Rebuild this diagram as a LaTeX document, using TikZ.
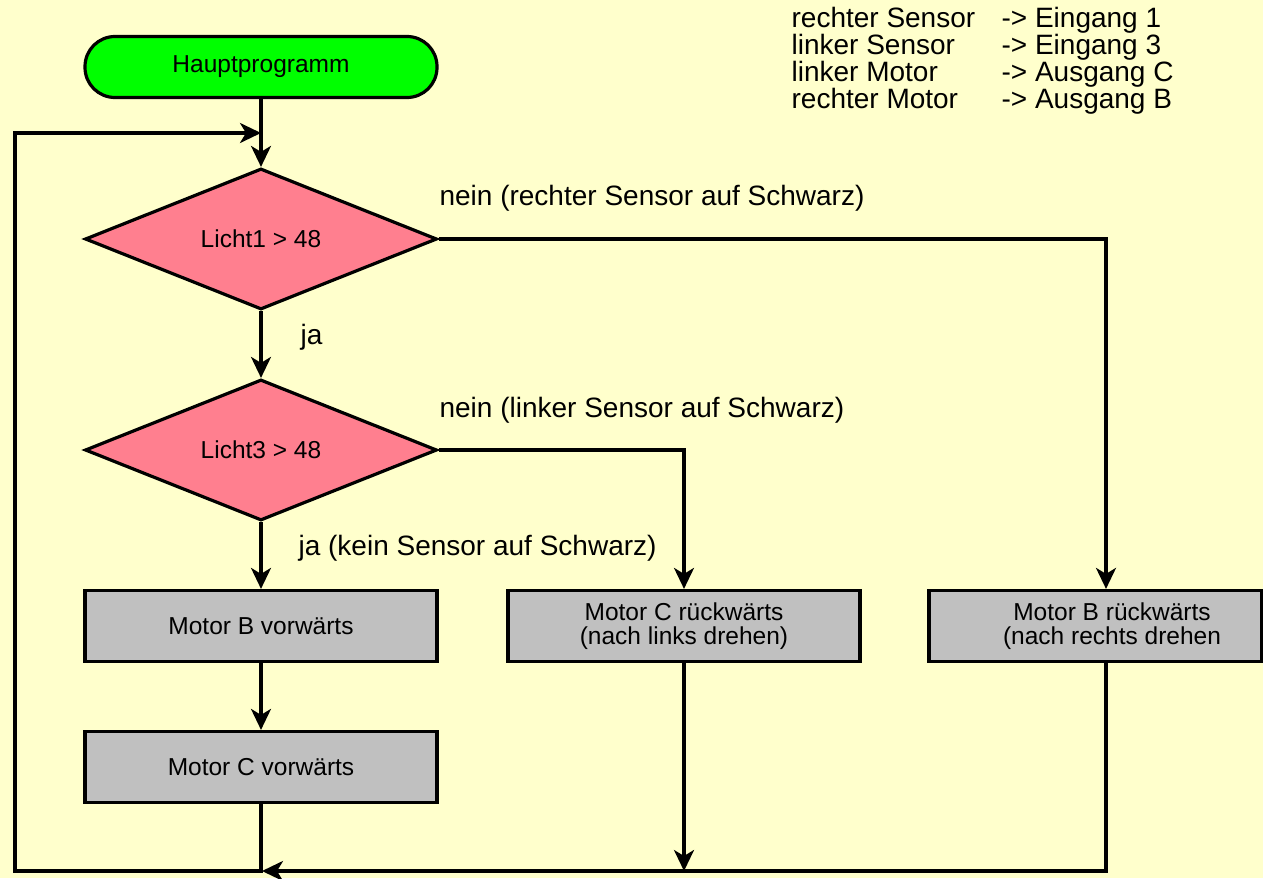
\documentclass[tikz,border=0pt]{standalone}
\usepackage{fontspec}
\setmainfont{Liberation Sans}
\usetikzlibrary{shapes.geometric,arrows.meta}
\definecolor{bgc}{HTML}{FFFFCC}
\definecolor{startc}{HTML}{00FF00}
\definecolor{decc}{HTML}{FF7F8F}
\definecolor{procc}{HTML}{C0C0C0}
\begin{document}
\begin{tikzpicture}[x=1pt,y=-1pt,line width=3.2pt,
  nodetext/.style={font=\fontsize{24.5}{24}\selectfont, align=center},
  startbox/.style={draw, fill=startc, rounded corners=30pt, minimum width=352pt, minimum height=61pt, inner sep=0pt, nodetext},
  decbox/.style={draw, fill=decc, diamond, minimum width=352pt, minimum height=141pt, inner sep=0pt, nodetext},
  procbox/.style={draw, fill=procc, minimum width=352pt, minimum height=71pt, inner sep=0pt, nodetext},
  lbl/.style={font=\fontsize{28}{28}\selectfont, anchor=base west, inner sep=0pt},
  flow/.style={-{Stealth[length=21pt,width=20pt,inset=6pt]}, line width=3.2pt}]
\fill[bgc] (0,0) rectangle (1263,878);
\useasboundingbox (0,0) rectangle (1263,878);

% legend
\node[lbl] (g1) at (790,27.5) {rechter Sensor};
\node[lbl] (g2) at (790,54.5) {linker Sensor};
\node[lbl] (g3) at (790,81.5) {linker Motor};
\node[lbl] (g4) at (790,108.5) {rechter Motor};
\node[lbl] (h1) at (1000,27.5) {-> Eingang 1};
\node[lbl] (h2) at (1000,54.5) {-> Eingang 3};
\node[lbl] (h3) at (1000,81.5) {-> Ausgang C};
\node[lbl] (h4) at (1000,108.5) {-> Ausgang B};

% nodes
\node[startbox] (hp) at (261,67) {Hauptprogramm};
\node[decbox] (d1) at (261,239) {Licht1 > 48};
\node[decbox] (d2) at (261,450) {Licht3 > 48};
\node[procbox] (mbv) at (261,626) {Motor B vorwärts};
\node[procbox] (mcv) at (261,767) {Motor C vorwärts};
\node[procbox] (mcr) at (684,626) {Motor C rückwärts\\(nach links drehen)};
\node[procbox, minimum width=333pt] (mbr) at (1095.5,626) {};
\node[nodetext] (mbrt) at (1112,626) {Motor B rückwärts\\(nach rechts drehen};

% labels
\node[lbl] (l1) at (438,205) {nein (rechter Sensor auf Schwarz)};
\node[lbl] (l2) at (299,344) {ja};
\node[lbl] (l3) at (438,417) {nein (linker Sensor auf Schwarz)};
\node[lbl] (l4) at (297,555) {ja (kein Sensor auf Schwarz)};

% coordinates
\coordinate (jt) at (261,133);
\coordinate (bl) at (15,871);
\coordinate (bj) at (262,871);
\coordinate (rx) at (1106,871);

% connectors
\draw[flow] (hp.south) -- (d1.north);
\draw[flow] (mcv.south) -- (mcv.south |- bl) -- (bl) -- (bl |- jt) -- (jt);
\draw[flow] (d1.east) -| (rx |- mbr.north);
\draw[flow] (d1.south) -- (d2.north);
\draw[flow] (d2.east) -| (mcr.north);
\draw[flow] (d2.south) -- (mbv.north);
\draw[flow] (mbv.south) -- (mcv.north);
\draw[flow] (mcr.south) -- (mcr.south |- bl);
\draw[flow] (rx |- mbr.south) -- (rx) -- (bj);
\end{tikzpicture}
\end{document}
